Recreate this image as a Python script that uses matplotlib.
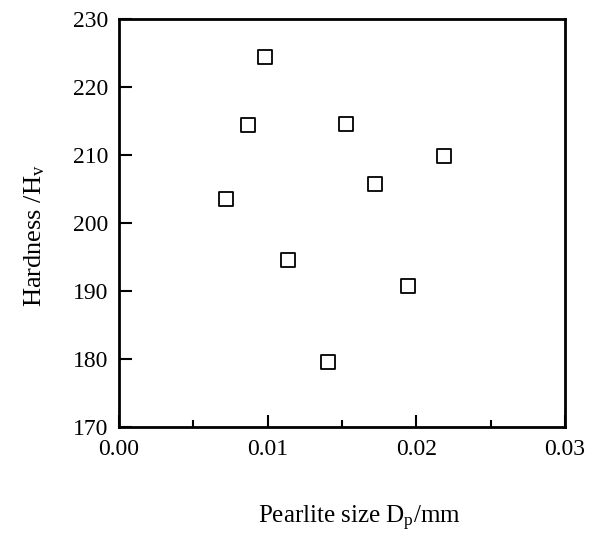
import matplotlib
matplotlib.use("Agg")
import matplotlib.pyplot as plt
from matplotlib.ticker import MultipleLocator

plt.rcParams['font.family'] = ['Liberation Serif', 'DejaVu Serif']
plt.rcParams['mathtext.fontset'] = 'custom'
plt.rcParams['mathtext.rm'] = 'Liberation Serif'
plt.rcParams['mathtext.it'] = 'Liberation Serif:italic'

# Pearlite size (mm) and Vickers hardness
pearlite_size = [0.00718, 0.00870, 0.00982, 0.01134, 0.01409,
                 0.01528, 0.01725, 0.01942, 0.02188]
hardness = [203.6, 214.4, 224.4, 194.5, 179.5,
            214.5, 205.8, 190.7, 209.9]

x_ticks = [0.00, 0.01, 0.02, 0.03]
x_tick_labels = ['0.00', '0.01', '0.02', '0.03']
y_ticks = [170, 180, 190, 200, 210, 220, 230]

fig = plt.figure(figsize=(5.91, 5.35), dpi=100)
ax = fig.add_axes([0.2014, 0.2019, 0.7546, 0.7626])

ax.scatter(pearlite_size, hardness, marker='s', s=110, facecolors='white',
           edgecolors='black', linewidths=1.3, zorder=3)

ax.set_xlim(0.0, 0.03)
ax.set_ylim(170, 230)
ax.set_xticks(x_ticks)
ax.set_xticklabels(x_tick_labels)
ax.set_yticks(y_ticks)
ax.xaxis.set_minor_locator(MultipleLocator(0.005))

ax.tick_params(axis='both', which='major', direction='in', length=9, width=1.5,
               labelsize=17, top=False, right=False)
ax.tick_params(axis='x', which='minor', direction='in', length=5, width=1.5,
               top=False)
ax.tick_params(axis='x', which='major', pad=9)
ax.tick_params(axis='y', which='major', pad=8)

for sp in ax.spines.values():
    sp.set_linewidth(2.0)

ax.set_xlabel(r'Pearlite size D$_{\mathrm{p}}$/mm', fontsize=18)
ax.set_ylabel(r'Hardness /H$_{\mathrm{v}}$', fontsize=19)
ax.xaxis.set_label_coords(0.54, -0.225)
ax.xaxis.label.set_verticalalignment('center')
ax.yaxis.set_label_coords(-0.19, 0.47)
ax.yaxis.label.set_verticalalignment('center')

fig.savefig('out.png', dpi=100)
